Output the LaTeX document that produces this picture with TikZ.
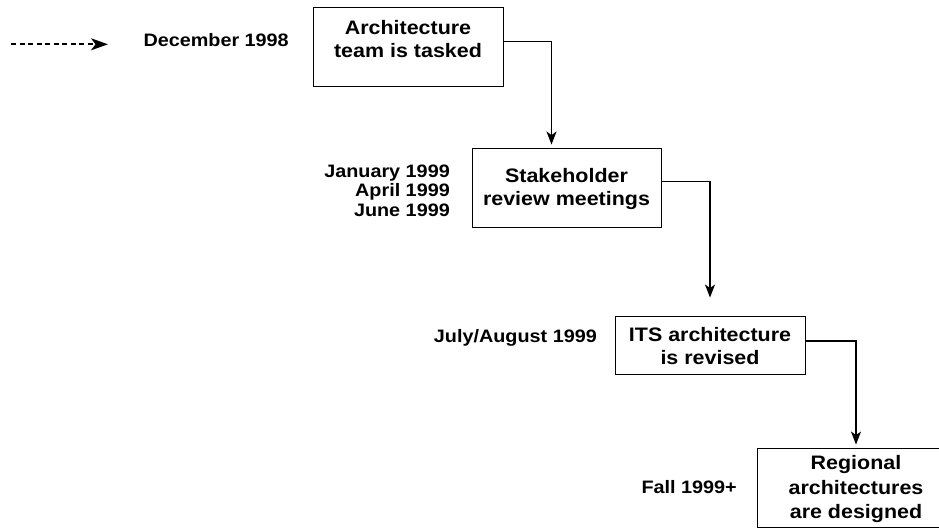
\documentclass[tikz,border=0pt]{standalone}
\usepackage{fontspec}
\setmainfont{Liberation Sans}[FakeStretch=1.1]
\usetikzlibrary{arrows.meta}
\tikzset{
  stagebox/.style={draw=black, line width=0.9pt, minimum width=190pt, minimum height=79pt, inner sep=0pt},
  stagetext/.style={align=center, inner sep=0pt, font=\fontsize{19.5}{23}\selectfont\bfseries},
  datelabel/.style={align=right, inner sep=0pt, anchor=base east, font=\fontsize{18}{19.7}\selectfont\bfseries},
  flow/.style={line width=1.3pt, -{Stealth[length=13pt,width=10pt,inset=3.5pt]}},
  lead/.style={line width=1.6pt, dash pattern=on 5pt off 3.5pt, -{Stealth[length=17pt,width=12pt,inset=4.5pt]}}
}
\begin{document}
\begin{tikzpicture}[x=1pt,y=-1pt]
\useasboundingbox (0,0) rectangle (939,529);
\fill[white] (0,0) rectangle (939,529);
\clip (0,0) rectangle (939,529);

% boxes
\node[stagebox] (b1) at (408,46.5) {};
\node[stagetext] (t1) at (408,39.5) {Architecture\\team is tasked};
\node[stagebox, minimum width=189pt] (b2) at (566.5,187.5) {};
\node[stagetext] (t2) at (566.5,189) {Stakeholder\\review meetings};
\node[stagebox, minimum height=58pt] (b3) at (710,345) {};
\node[stagetext] (t3) at (710,346.5) {ITS architecture\\is revised};
\node[stagebox, minimum width=198pt] (b4) at (856,487.5) {};
\node[stagetext, font=\fontsize{19.5}{24.5}\selectfont\bfseries] (t4) at (856,489) {Regional\\architectures\\are designed};

% date labels
\node[datelabel] (l1) at (289,46.7) {December 1998};
\node[datelabel] (l2) at (450,216.7) {January 1999\\April 1999\\June 1999};
\node[datelabel] (l3) at (597,342.7) {July/August 1999};
\node[datelabel] (l4) at (737,493.3) {Fall 1999+};

% lead-in dashed arrow
\coordinate (d0) at (11,44.3);
\coordinate (d1) at (108,44.3);
\draw[lead] (d0) -- (d1);

% connectors
\draw[flow, shorten >=3pt] ([yshift=5pt]b1.east) -| ([xshift=-15pt]b2.north);
\draw[flow, shorten >=18pt] ([yshift=6pt]b2.east) -| (b3.north);
\draw[flow, shorten >=3pt] ([yshift=4pt]b3.east) -| (b4.north);
\end{tikzpicture}
\end{document}
